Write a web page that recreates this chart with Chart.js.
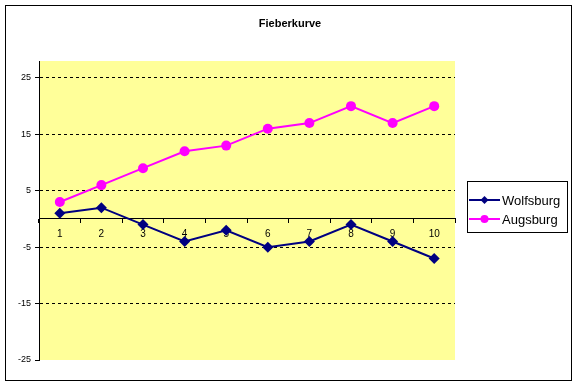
<!DOCTYPE html>
<html lang="de">
<head>
<meta charset="utf-8"/>
<title>Fieberkurve</title>
<script src="https://cdn.jsdelivr.net/npm/chart.js@4.4.3/dist/chart.umd.min.js"></script>
<style>
  body { margin: 0; background: #fff; }
  #wrap { width: 577px; height: 385px; }
</style>
</head>
<body>
<div id="wrap"><canvas id="fieber" width="577" height="385"></canvas></div>
<script>
  // data
  const categories = ['1', '2', '3', '4', '5', '6', '7', '8', '9', '10'];
  const wolfsburg = [1, 2, -1, -4, -2, -5, -4, -1, -4, -7];
  const augsburg = [3, 6, 9, 12, 13, 16, 17, 20, 17, 20];
  const yTicks = [-25, -15, -5, 5, 15, 25];

  const FONT = '"Liberation Sans", Arial, sans-serif';

  // yellow plot area, outer frame, title and the boxed legend (Excel look)
  const excelLook = {
    id: 'excelLook',
    beforeDraw(chart) {
      const { ctx, chartArea: a } = chart;
      ctx.save();
      ctx.fillStyle = '#ffff99';
      ctx.fillRect(a.left, a.top, a.right - a.left, a.bottom - a.top);
      ctx.restore();
    },
    afterDraw(chart) {
      const ctx = chart.ctx;
      ctx.save();
      ctx.strokeStyle = '#000';
      ctx.lineWidth = 1;
      ctx.strokeRect(5.5, 5.5, 566, 375);

      ctx.fillStyle = '#000';
      ctx.font = 'bold 11px ' + FONT;
      ctx.textAlign = 'center';
      ctx.textBaseline = 'middle';
      ctx.fillText('Fieberkurve', 290, 24);

      // legend
      ctx.strokeRect(467.5, 181.5, 100, 51);
      ctx.font = '13px ' + FONT;
      ctx.textAlign = 'left';
      chart.data.datasets.forEach((ds, i) => {
        const y = 200 + i * 19;
        ctx.strokeStyle = ds.borderColor;
        ctx.lineWidth = 2;
        ctx.beginPath();
        ctx.moveTo(469, y);
        ctx.lineTo(500, y);
        ctx.stroke();
        ctx.fillStyle = ds.backgroundColor;
        ctx.beginPath();
        if (ds.pointStyle === 'rectRot') {
          ctx.moveTo(484.5, y - 4); ctx.lineTo(488.5, y); ctx.lineTo(484.5, y + 4); ctx.lineTo(480.5, y);
        } else {
          ctx.arc(484.5, y, 4, 0, Math.PI * 2);
        }
        ctx.fill();
        ctx.fillStyle = '#000';
        ctx.fillText(ds.label, 502, y + 1);
      });
      ctx.restore();
    }
  };

  new Chart(document.getElementById('fieber'), {
    type: 'line',
    data: {
      labels: categories,
      datasets: [
        {
          label: 'Wolfsburg',
          data: wolfsburg,
          borderColor: '#000080',
          backgroundColor: '#000080',
          borderWidth: 2,
          pointStyle: 'rectRot',
          pointRadius: 5.5,
          pointBorderWidth: 0,
          tension: 0,
        },
        {
          label: 'Augsburg',
          data: augsburg,
          borderColor: '#ff00ff',
          backgroundColor: '#ff00ff',
          borderWidth: 2,
          pointStyle: 'circle',
          pointRadius: 5,
          pointBorderWidth: 0,
          tension: 0,
        },
      ],
    },
    options: {
      responsive: false,
      animation: false,
      layout: { padding: { left: 6, right: 122, top: 61, bottom: 25 } },
      plugins: {
        legend: { display: false },
        title: { display: false },
        tooltip: { enabled: false },
      },
      scales: {
        x: {
          position: { y: 0 },
          offset: true,
          grid: {
            offset: true,
            drawOnChartArea: false,
            drawTicks: true,
            tickLength: 4,
            tickColor: '#000',
          },
          border: { display: true, color: '#000', width: 1 },
          ticks: { color: '#000', font: { family: FONT, size: 10 }, padding: 5, maxRotation: 0 },
        },
        y: {
          min: -25,
          max: 28,
          afterBuildTicks: (scale) => { scale.ticks = yTicks.map(v => ({ value: v })); },
          afterFit: (scale) => { scale.width = 33; },
          grid: {
            color: (c) => (c.tick && c.tick.value === -25 ? 'rgba(0,0,0,0)' : '#000'),
            tickColor: '#000',
            tickLength: 4,
            tickBorderDash: [],
          },
          border: { display: true, color: '#000', width: 1, dash: [3, 3] },
          ticks: { color: '#000', font: { family: FONT, size: 9 }, padding: 4 },
        },
      },
    },
    plugins: [excelLook],
  });
</script>
</body>
</html>
